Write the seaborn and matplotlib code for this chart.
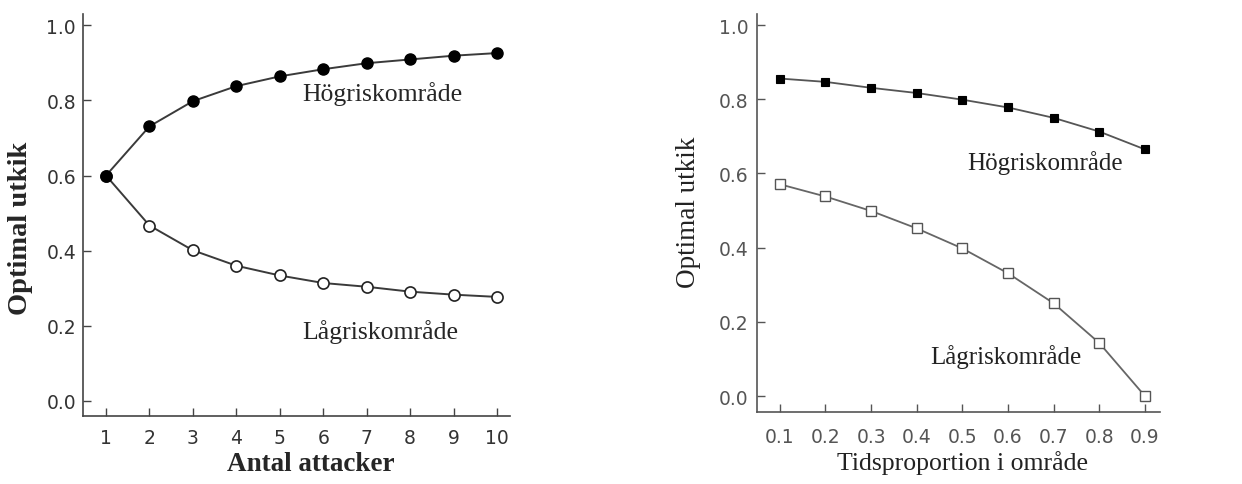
import matplotlib
matplotlib.use("Agg")
import matplotlib.pyplot as plt
import seaborn as sns
import pandas as pd

# ---- data ----
attacks = [1, 2, 3, 4, 5, 6, 7, 8, 9, 10]
high_attacks = [0.60, 0.731, 0.798, 0.838, 0.864, 0.883, 0.899, 0.909, 0.919, 0.926]
low_attacks = [0.60, 0.467, 0.401, 0.360, 0.334, 0.314, 0.304, 0.291, 0.283, 0.277]

timeprop = [0.1, 0.2, 0.3, 0.4, 0.5, 0.6, 0.7, 0.8, 0.9]
high_time = [0.856, 0.847, 0.831, 0.817, 0.799, 0.778, 0.750, 0.713, 0.665]
low_time = [0.571, 0.538, 0.499, 0.452, 0.398, 0.331, 0.250, 0.143, 0.0]

yticks = [0.0, 0.2, 0.4, 0.6, 0.8, 1.0]
label_high = "Högriskområde"
label_low = "Lågriskområde"
ylabel = "Optimal utkik"
xlabel_left = "Antal attacker"
xlabel_right = "Tidsproportion i område"

sns.set_style("ticks")
plt.rcParams["font.family"] = ["DejaVu Sans"]

fig = plt.figure(figsize=(12.42, 4.85), dpi=100)
W, H = 1242, 485
axL = fig.add_axes([83 / W, 1 - 417 / H, (510 - 83) / W, (417 - 15) / H])
axR = fig.add_axes([757 / W, 1 - 413 / H, (1160 - 757) / W, (413 - 15) / H])

serif = ["Liberation Serif", "DejaVu Serif"]

# ---- left panel ----
dfL = pd.DataFrame({"x": attacks, "high": high_attacks, "low": low_attacks})
sns.lineplot(data=dfL, x="x", y="low", ax=axL, color="#3a3a3a", lw=1.4,
             marker="o", markersize=8, markerfacecolor="white",
             markeredgecolor="#222222", markeredgewidth=1.2)
sns.lineplot(data=dfL, x="x", y="high", ax=axL, color="#3a3a3a", lw=1.4,
             marker="o", markersize=8, markerfacecolor="black",
             markeredgecolor="black", markeredgewidth=1.0)
axL.set_xlim(0.47, 10.3)
axL.set_ylim(-0.04, 1.03)
axL.set_xticks(attacks)
axL.set_yticks(yticks)
axL.set_yticklabels([f"{v:.1f}" for v in yticks])
axL.tick_params(direction="in", length=6, width=1, colors="#444444",
                labelsize=13.5, labelcolor="#333333")
axL.tick_params(axis="x", pad=9)
axL.tick_params(axis="y", pad=5)
axL.set_ylabel(ylabel, fontsize=20.5, fontweight="bold", family=serif)
axL.set_xlabel(xlabel_left, fontsize=19.5, fontweight="bold", family=serif)
axL.yaxis.set_label_coords(-0.1475, 0.47)
axL.yaxis.label.set_va("center")
axL.xaxis.set_label_coords(0.534, -0.119)
axL.xaxis.label.set_va("center")
axL.text(5.52, 0.82, label_high, fontsize=18.5, family=serif, ha="left", va="center")
axL.text(5.52, 0.185, label_low, fontsize=18.5, family=serif, ha="left", va="center")
for s in ("left", "bottom"):
    axL.spines[s].set_color("#444444")
    axL.spines[s].set_linewidth(1.2)
sns.despine(ax=axL)

# ---- right panel ----
dfR = pd.DataFrame({"x": timeprop, "high": high_time, "low": low_time})
sns.lineplot(data=dfR, x="x", y="high", ax=axR, color="#555555", lw=1.3,
             marker="s", markersize=6, markerfacecolor="black",
             markeredgecolor="black", markeredgewidth=0.8)
sns.lineplot(data=dfR, x="x", y="low", ax=axR, color="#666666", lw=1.3,
             marker="s", markersize=6.5, markerfacecolor="white",
             markeredgecolor="#555555", markeredgewidth=1.0)
axR.set_xlim(0.05, 0.933)
axR.set_ylim(-0.043, 1.03)
axR.set_xticks(timeprop)
axR.set_xticklabels([f"{v:.1f}" for v in timeprop])
axR.set_yticks(yticks)
axR.set_yticklabels([f"{v:.1f}" for v in yticks])
axR.tick_params(direction="in", length=6, width=1, colors="#555555",
                labelsize=13.5, labelcolor="#555555")
axR.tick_params(axis="x", pad=11)
axR.tick_params(axis="y", pad=6)
axR.set_ylabel(ylabel, fontsize=19.5, family=serif, color="#222222")
axR.set_xlabel(xlabel_right, fontsize=18.5, family=serif, color="#222222")
axR.yaxis.set_label_coords(-0.171, 0.505)
axR.yaxis.label.set_va("center")
axR.xaxis.set_label_coords(0.51, -0.126)
axR.xaxis.label.set_va("center")
axR.text(0.51, 0.63, label_high, fontsize=18, family=serif, ha="left", va="center", color="#222222")
axR.text(0.429, 0.108, label_low, fontsize=18, family=serif, ha="left", va="center", color="#222222")
for s in ("left", "bottom"):
    axR.spines[s].set_color("#555555")
    axR.spines[s].set_linewidth(1.2)
sns.despine(ax=axR)

fig.savefig("out.png", dpi=100)
